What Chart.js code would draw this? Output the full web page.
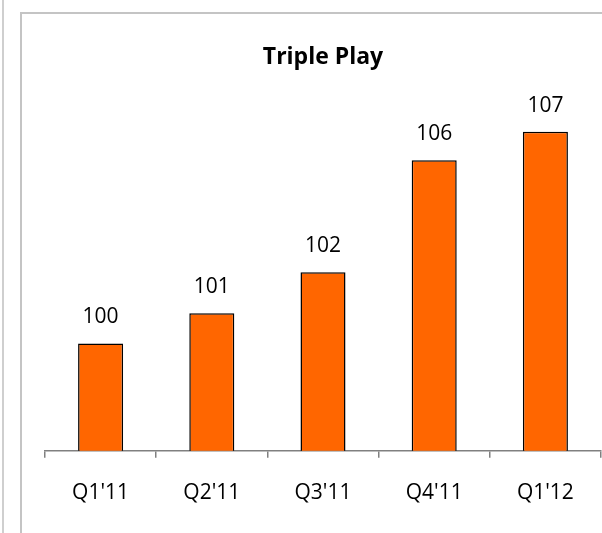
<!DOCTYPE html>
<html>
<head>
<meta charset="utf-8">
<script src="https://cdn.jsdelivr.net/npm/chart.js@4/dist/chart.umd.min.js"></script>
<style>
  html, body { margin: 0; padding: 0; background: #fff; }
  #wrap { position: relative; width: 602px; height: 533px; overflow: hidden; }
  #c { position: absolute; left: 0; top: 0; }
  .ln { position: absolute; background: #c4c4c4; }
</style>
</head>
<body>
<div id="wrap">
  <canvas id="c" width="602" height="533"></canvas>
  <div class="ln" style="left:2px;top:0;width:2px;height:533px;background:#cfcfcf"></div>
  <div class="ln" style="left:20px;top:12px;width:2px;height:521px;"></div>
  <div class="ln" style="left:20px;top:12px;width:582px;height:2px;"></div>
</div>
<script>
const categories = ["Q1'11", "Q2'11", "Q3'11", "Q4'11", "Q1'12"];
const values = [100, 101, 102.35, 106.05, 107];
const valueLabels = ["100", "101", "102", "106", "107"];
const chartTitle = "Triple Play";

const labelPlugin = {
  id: 'valueLabels',
  afterDatasetsDraw(chart) {
    const ctx = chart.ctx;
    const meta = chart.getDatasetMeta(0);
    ctx.save();
    ctx.font = '21px "Open Sans"';
    ctx.fillStyle = '#000';
    ctx.textAlign = 'center';
    ctx.textBaseline = 'middle';
    meta.data.forEach((bar, i) => {
      ctx.fillText(valueLabels[i], bar.x, bar.y - 26);
    });
    ctx.restore();
  }
};

new Chart(document.getElementById('c'), {
  type: 'bar',
  data: {
    labels: categories,
    datasets: [{
      data: values,
      backgroundColor: '#FF6600',
      borderColor: '#000',
      borderWidth: 1.5,
      categoryPercentage: 1,
      barPercentage: 0.405
    }]
  },
  options: {
    responsive: false,
    animation: false,
    events: [],
    layout: { padding: { left: 45, right: 1, top: 0, bottom: 4 } },
    plugins: {
      legend: { display: false },
      tooltip: { enabled: false },
      title: {
        display: true,
        text: chartTitle,
        color: '#000',
        font: { family: 'Open Sans', size: 23, weight: 'bold' },
        padding: { top: 44, bottom: 8 }
      }
    },
    scales: {
      x: {
        offset: true,
        grid: {
          offset: true,
          drawOnChartArea: false,
          drawTicks: true,
          tickLength: 7,
          color: '#808080',
          lineWidth: 1.5
        },
        border: { display: true, color: '#808080', width: 1.5 },
        ticks: {
          color: '#000',
          padding: 23,
          font: { family: 'Open Sans', size: 21 }
        }
      },
      y: {
        display: false,
        min: 96.45,
        max: 108.72
      }
    }
  },
  plugins: [labelPlugin]
});
</script>
</body>
</html>
